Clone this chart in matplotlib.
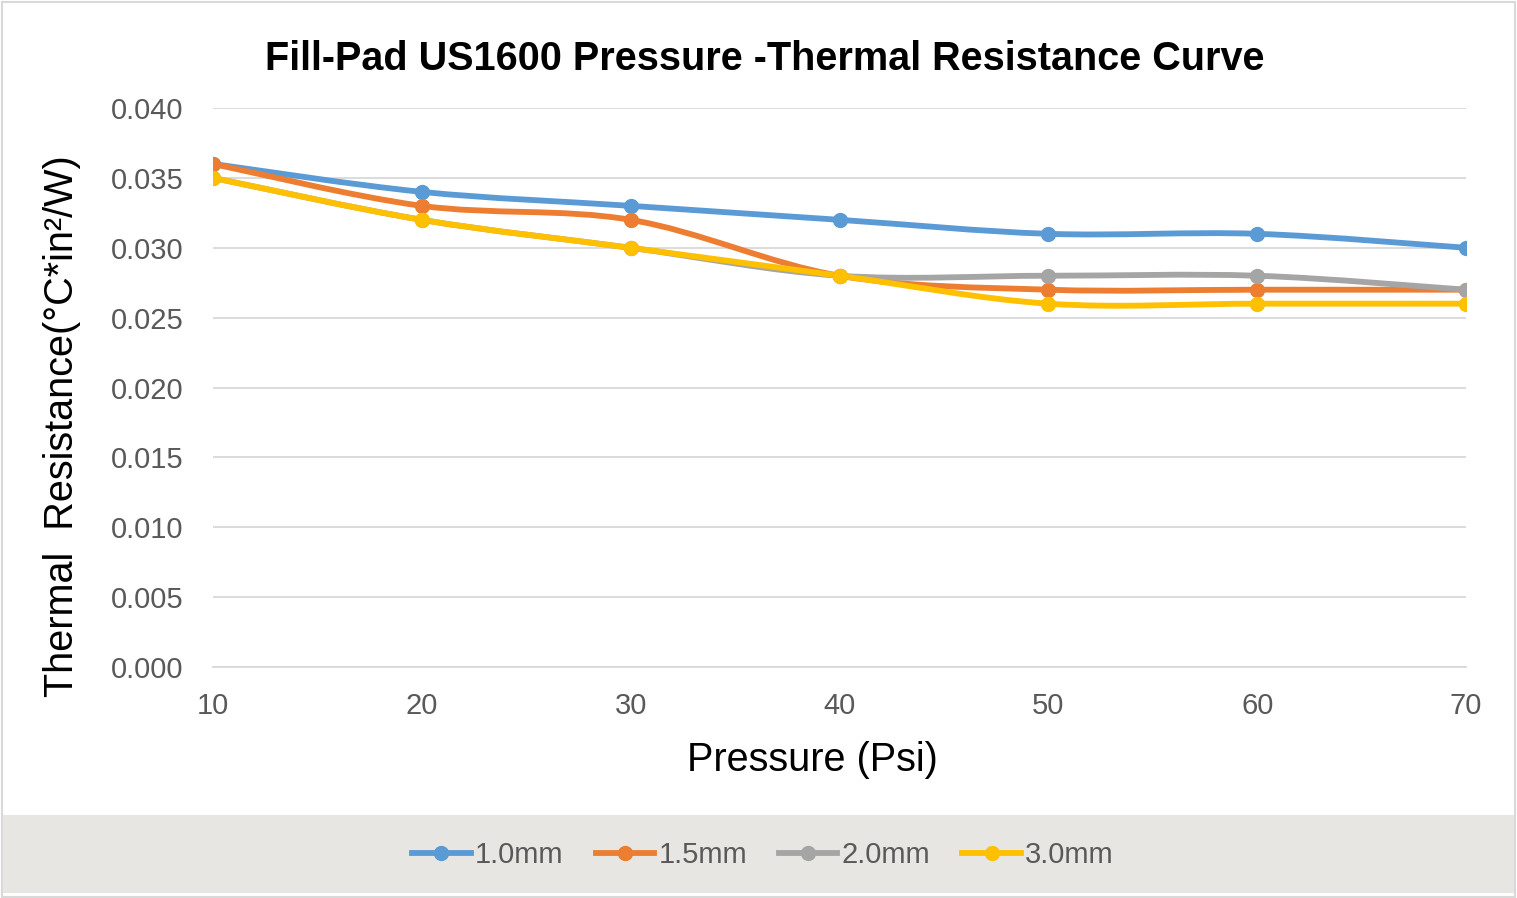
import matplotlib
matplotlib.use("Agg")
import matplotlib.pyplot as plt
import numpy as np
from matplotlib.path import Path
from matplotlib.patches import PathPatch, Rectangle
from matplotlib.lines import Line2D

plt.rcParams["font.family"] = ["Liberation Sans", "DejaVu Sans"]

pressure = [10, 20, 30, 40, 50, 60, 70]
series_names = ["1.0mm", "1.5mm", "2.0mm", "3.0mm"]
r_10mm = [0.036, 0.034, 0.033, 0.032, 0.031, 0.031, 0.030]
r_15mm = [0.036, 0.033, 0.032, 0.028, 0.027, 0.027, 0.027]
r_20mm = [0.035, 0.032, 0.030, 0.028, 0.028, 0.028, 0.027]
r_30mm = [0.035, 0.032, 0.030, 0.028, 0.026, 0.026, 0.026]
colors = ["#5B9BD5", "#ED7D31", "#A5A5A5", "#FFC000"]
y_ticks = [0.000, 0.005, 0.010, 0.015, 0.020, 0.025, 0.030, 0.035, 0.040]


def smooth_path(x, y):
    # Excel-style smoothed line: Catmull-Rom segments as cubic Bezier
    pts = np.column_stack([x, y]).astype(float)
    n = len(pts)
    verts = [pts[0]]
    codes = [Path.MOVETO]
    for i in range(n - 1):
        p0 = pts[i - 1] if i > 0 else pts[i]
        p1 = pts[i]
        p2 = pts[i + 1]
        p3 = pts[i + 2] if i + 2 < n else pts[i + 1]
        c1 = p1 + (p2 - p0) / 6.0
        c2 = p2 - (p3 - p1) / 6.0
        verts += [c1, c2, p2]
        codes += [Path.CURVE4] * 3
    return Path(verts, codes)


fig = plt.figure(figsize=(15.17, 8.98), dpi=100)
fig.patch.set_facecolor("white")

# outer border and grey legend band
fig.patches.append(Rectangle((0.001, 0.001), 0.998, 0.997, transform=fig.transFigure,
                             fill=False, edgecolor="#D9D9D9", linewidth=1.5, zorder=0))
fig.patches.append(Rectangle((3 / 1517, 5 / 898), 1511 / 1517, 78 / 898, transform=fig.transFigure,
                             facecolor="#E7E6E2", edgecolor="none", zorder=0))

ax = fig.add_axes([0.1404, 0.2572, 0.826, 0.6225])
ax.set_facecolor("none")

for vals, col in zip([r_10mm, r_15mm, r_20mm, r_30mm], colors):
    ax.add_patch(PathPatch(smooth_path(pressure, vals), facecolor="none", edgecolor=col,
                           linewidth=4.2, capstyle="round", joinstyle="round", zorder=3))
    ax.plot(pressure, vals, linestyle="none", marker="o", markersize=10, color=col, zorder=4)

ax.set_xlim(10, 70)
ax.set_ylim(0, 0.040)
ax.set_xticks(pressure)
ax.set_yticks(y_ticks)
ax.set_yticklabels([f"{v:.3f}" for v in y_ticks])
ax.tick_params(length=0, labelsize=21, labelcolor="#595959")
ax.tick_params(axis="x", pad=18)
ax.tick_params(axis="y", pad=21)
ax.grid(axis="y", color="#D9D9D9", linewidth=1.3)
ax.set_axisbelow(True)
for side in ["top", "right", "left"]:
    ax.spines[side].set_visible(False)
ax.spines["bottom"].set_color("#D9D9D9")
ax.spines["bottom"].set_linewidth(1.3)

fig.text(0.504, 1 - 59 / 898, "Fill-Pad US1600 Pressure -Thermal Resistance Curve",
         ha="center", va="center", fontsize=28.5, fontweight="bold", color="black")
fig.text(62 / 1517, 1 - 426 / 898, "Thermal  Resistance(°C*in²/W)", rotation=90,
         ha="center", va="center", fontsize=28.5, color="black")
fig.text(812 / 1517, 1 - 760 / 898, "Pressure (Psi)", ha="center", va="center",
         fontsize=28.5, color="black")

handles = [Line2D([], [], color=c, linewidth=4.2, marker="o", markersize=10) for c in colors]
fig.legend(handles, series_names, loc="center", bbox_to_anchor=(0.503, 1 - 855 / 898),
           ncol=4, frameon=False, fontsize=21, handlelength=2.0, handletextpad=0.15,
           columnspacing=1.1, labelcolor="#595959")

fig.savefig("out.png", dpi=100)
